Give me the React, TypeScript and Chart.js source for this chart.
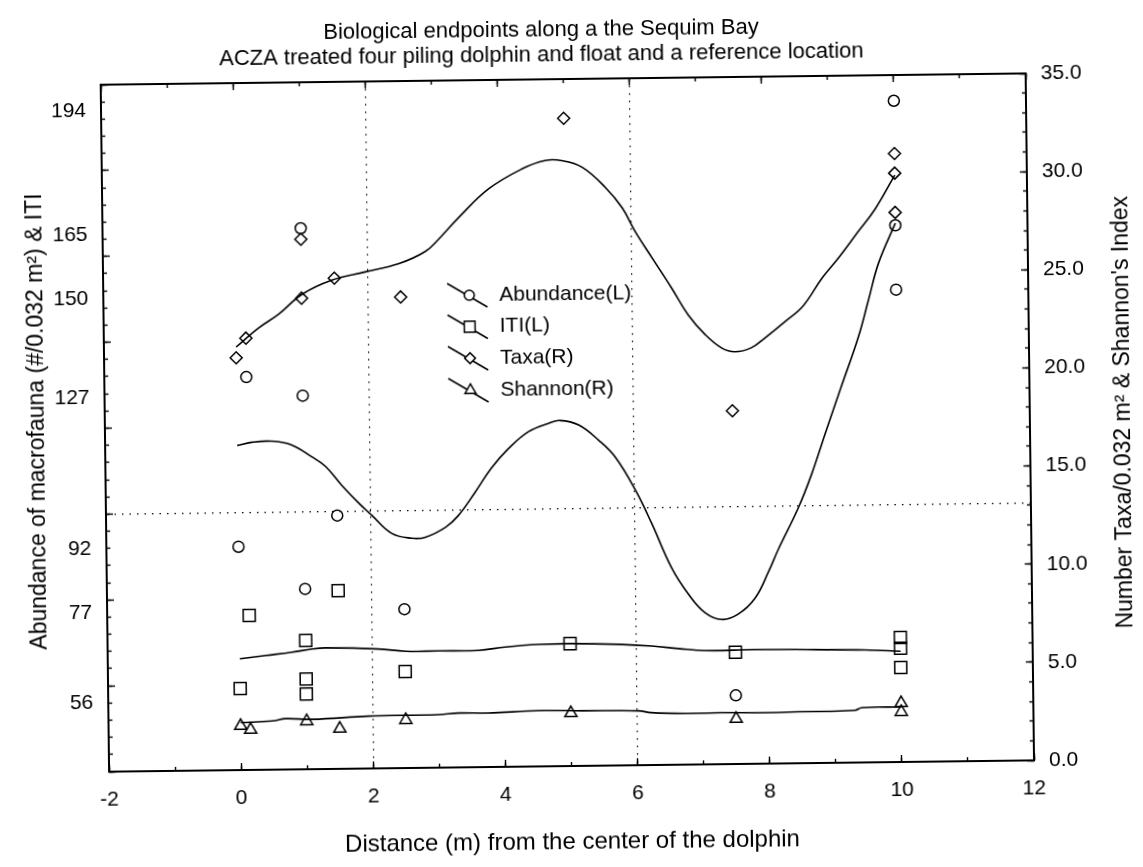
import React, { useEffect, useRef } from 'react';
import { Chart, registerables } from 'chart.js';

Chart.register(...registerables);

const FONT = "'Liberation Sans', Arial, sans-serif";

// ---- text ----
const titleLines = [
  'Biological endpoints along a the Sequim Bay',
  'ACZA treated four piling dolphin and float and a reference location',
];
const xAxisTitle = 'Distance (m) from the center of the dolphin';
const leftAxisTitle = 'Abundance of macrofauna (#/0.032 m\u00B2) & ITI';
const rightAxisTitle = "Number Taxa/0.032 m\u00B2 & Shannon's Index";
const legendLabels = ['Abundance(L)', 'ITI(L)', 'Taxa(R)', 'Shannon(R)'];

// ---- axes ----
const xMin = -2;
const xMax = 12;
const xStep = 2;
const xMinorStep = 1;
const xGridValues = [2, 6];
const leftMin = 40;
const leftMax = 200;
const leftMajorStep = 20;
const leftMinorStep = 4;
const leftTickValues = [56, 77, 92, 127, 150, 165, 194];
const leftGridValues = [100];
const rightMin = 0;
const rightMax = 35;
const rightStep = 5;
const rightMinorStep = 1;

// ---- measured points ----
const abundanceX = [0, 0.15, 1, 1, 1, 1.5, 2.5, 7.5, 10, 10, 10];
const abundanceY = [92, 131.5, 166, 127, 82, 99, 77, 56, 194, 165, 150];

const itiX = [0, 0.15, 1, 1, 1, 1.5, 2.5, 5, 7.5, 10, 10, 10];
const itiY = [59, 76, 70, 61, 57.5, 81.5, 62.5, 68.5, 66, 69, 66.5, 62];

const taxaX = [0, 0.15, 1, 1, 1.5, 2.5, 5, 7.5, 10, 10, 10];
const taxaY = [21, 22, 27, 24, 25, 24, 33, 18, 31, 30, 28];

const shannonX = [0, 0.15, 1, 1.5, 2.5, 5, 7.5, 10, 10];
const shannonY = [2.25, 2.05, 2.45, 2.05, 2.45, 2.7, 2.3, 2.55, 3.0];

// ---- fitted curves ----
const abundanceFitX = [0, 0.22, 0.52, 0.82, 1.12, 1.33, 1.57, 1.83, 2.02, 2.32, 2.62, 2.83, 3.14, 3.33, 3.59, 3.84, 4.11, 4.41, 4.72, 4.89, 5.17, 5.47, 5.72, 6.02, 6.26, 6.55, 6.8, 7.05, 7.3, 7.55, 7.81, 8.02, 8.17, 8.48, 8.69, 8.9, 9.15, 9.42, 9.58, 9.74, 10];
const abundanceFitY = [115.6, 116.3, 116.5, 115.6, 112.8, 110.5, 106.1, 101.8, 99.0, 94.7, 93.5, 93.7, 96.0, 98.6, 104.0, 109.6, 114.2, 118.0, 119.9, 120.5, 119.4, 115.8, 111.8, 104.0, 96.2, 85.9, 79.7, 75.3, 73.7, 74.9, 78.6, 84.8, 89.9, 99.5, 107.4, 116.7, 127.5, 139.1, 147.7, 156.3, 165.5];

const itiFitX = [0, 0.39, 0.79, 1.1, 1.3, 2.1, 2.51, 3.01, 3.61, 4.02, 4.52, 5.03, 5.73, 6.24, 6.64, 7.04, 7.8, 8.71, 9.46, 10];
const itiFitY = [65.9, 66.6, 67.3, 68.0, 68.2, 67.8, 67.2, 67.2, 67.2, 67.9, 68.4, 68.5, 68.2, 67.7, 67.05, 66.5, 66.6, 66.4, 66.2, 65.8];

const taxaFitX = [0, 0.34, 0.65, 1.01, 1.46, 1.97, 2.48, 2.88, 3.08, 3.39, 3.85, 4.36, 4.71, 4.96, 5.27, 5.62, 5.87, 6.06, 6.31, 6.6, 6.85, 7.1, 7.35, 7.55, 7.8, 8.01, 8.31, 8.59, 8.88, 9.13, 9.44, 9.7, 10];
const taxaFitY = [21.55, 22.5, 23.2, 24.2, 24.9, 25.3, 25.7, 26.3, 26.9, 28.0, 29.45, 30.45, 30.86, 30.85, 30.5, 29.45, 28.4, 27.2, 25.85, 24.3, 22.9, 21.9, 21.2, 21.0, 21.2, 21.7, 22.5, 23.3, 24.7, 25.7, 27.06, 28.2, 29.9];

const shannonFitX = [0, 0.48, 0.68, 1.08, 1.94, 2.49, 3.0, 3.3, 3.75, 4.51, 5.17, 6.02, 6.22, 6.78, 7.28, 8.0, 8.45, 9.3, 9.4, 10];
const shannonFitY = [2.42, 2.48, 2.59, 2.54, 2.67, 2.69, 2.7, 2.77, 2.75, 2.84, 2.81, 2.77, 2.67, 2.61, 2.62, 2.6, 2.62, 2.66, 2.79, 2.8];

const pts = (xs: number[], ys: number[]) => xs.map((x, i) => ({ x, y: ys[i] }));

const curve = (xs: number[], ys: number[], axis: string) => ({
  data: pts(xs, ys),
  yAxisID: axis,
  showLine: true,
  borderColor: '#000',
  backgroundColor: '#000',
  borderWidth: 1.6,
  pointRadius: 0,
  pointHoverRadius: 0,
  tension: 0.4,
  fill: false,
});

const markers = (xs: number[], ys: number[], axis: string, style: string, r: number) => ({
  data: pts(xs, ys),
  yAxisID: axis,
  showLine: false,
  pointStyle: style,
  pointRadius: r,
  pointHoverRadius: r,
  pointBorderWidth: 1.5,
  borderColor: '#000',
  backgroundColor: 'rgba(0,0,0,0)',
});

const legendStyles = [
  { style: 'circle', r: 5.5 },
  { style: 'rect', r: 8.5 },
  { style: 'rectRot', r: 6 },
  { style: 'triangle', r: 7 },
];

function drawMarker(ctx: CanvasRenderingContext2D, style: string, r: number, x: number, y: number) {
  ctx.beginPath();
  if (style === 'circle') {
    ctx.arc(x, y, r, 0, Math.PI * 2);
  } else if (style === 'rect') {
    const s = Math.SQRT1_2 * r;
    ctx.rect(x - s, y - s, 2 * s, 2 * s);
  } else if (style === 'rectRot') {
    ctx.moveTo(x - r, y);
    ctx.lineTo(x, y - r);
    ctx.lineTo(x + r, y);
    ctx.lineTo(x, y + r);
    ctx.closePath();
  } else {
    let a = 0;
    ctx.moveTo(x + Math.sin(a) * r, y - Math.cos(a) * r);
    a += (2 * Math.PI) / 3;
    ctx.lineTo(x + Math.sin(a) * r, y - Math.cos(a) * r);
    a += (2 * Math.PI) / 3;
    ctx.lineTo(x + Math.sin(a) * r, y - Math.cos(a) * r);
    ctx.closePath();
  }
  ctx.fillStyle = '#fff';
  ctx.fill();
  ctx.stroke();
}

const textPlugin = {
  id: 'textPlugin',
  afterDraw(chart: any) {
    const ctx: CanvasRenderingContext2D = chart.ctx;
    ctx.save();
    ctx.fillStyle = '#000';
    ctx.textAlign = 'center';
    ctx.textBaseline = 'alphabetic';
    ctx.font = `22px ${FONT}`;
    ctx.fillText(titleLines[0], 546, 36);
    ctx.fillText(titleLines[1], 546, 61);

    ctx.textBaseline = 'middle';
    ctx.font = `23px ${FONT}`;
    ctx.save();
    ctx.translate(38, 415);
    ctx.rotate(-Math.PI / 2);
    ctx.fillText(leftAxisTitle, 0, 0);
    ctx.restore();

    ctx.save();
    ctx.translate(1124, 419);
    ctx.rotate(-Math.PI / 2);
    ctx.fillText(rightAxisTitle, 0, 0);
    ctx.restore();
    ctx.restore();
  },
};

const legendPlugin = {
  id: 'legendPlugin',
  afterDatasetsDraw(chart: any) {
    const ctx: CanvasRenderingContext2D = chart.ctx;
    const rows = [294, 325.5, 357, 389];
    const mx = 471;
    ctx.save();
    ctx.strokeStyle = '#000';
    ctx.lineWidth = 1.5;
    ctx.font = `21px ${FONT}`;
    ctx.textAlign = 'left';
    ctx.textBaseline = 'middle';
    legendLabels.forEach((label, i) => {
      const y = rows[i];
      ctx.beginPath();
      ctx.moveTo(mx - 22, y - 12);
      ctx.lineTo(mx + 18, y + 12);
      ctx.stroke();
      drawMarker(ctx, legendStyles[i].style, legendStyles[i].r * 0.9, mx, y);
      ctx.fillStyle = '#000';
      ctx.fillText(label, 501, y);
    });
    ctx.restore();
  },
};

// an invisible axis that only draws inward tick marks
const tickAxis = (
  position: string,
  min: number,
  max: number,
  step: number,
  len: number,
  horizontal: boolean,
) => ({
  type: 'linear',
  position,
  min,
  max,
  weight: -1,
  ticks: { display: false, stepSize: step, autoSkip: false, maxTicksLimit: 1000 },
  grid: {
    display: true,
    drawOnChartArea: false,
    drawTicks: true,
    tickLength: -len,
    tickColor: '#000',
    tickWidth: 1.4,
  },
  border: { display: false },
  afterFit: (s: any) => {
    if (horizontal) s.height = 0;
    else s.width = 0;
  },
});

export default function App() {
  const ref = useRef<HTMLCanvasElement>(null);

  useEffect(() => {
    const canvas = ref.current;
    if (!canvas) return;
    Chart.defaults.font.family = FONT;
    Chart.defaults.color = '#000';

    const hidden = 'rgba(0,0,0,0)';
    const chart = new Chart(canvas, {
      type: 'scatter',
      data: {
        datasets: [
          curve(abundanceFitX, abundanceFitY, 'y'),
          curve(itiFitX, itiFitY, 'y'),
          curve(taxaFitX, taxaFitY, 'y1'),
          curve(shannonFitX, shannonFitY, 'y1'),
          markers(abundanceX, abundanceY, 'y', 'circle', 5.5),
          markers(itiX, itiY, 'y', 'rect', 8.5),
          markers(taxaX, taxaY, 'y1', 'rectRot', 6),
          markers(shannonX, shannonY, 'y1', 'triangle', 7),
        ] as any,
      },
      options: {
        responsive: false,
        animation: false,
        layout: { padding: 0 },
        plugins: {
          legend: { display: false },
          tooltip: { enabled: false },
          title: { display: false },
        },
        scales: {
          x: {
            type: 'linear',
            position: 'bottom',
            min: xMin,
            max: xMax,
            ticks: { stepSize: xStep, padding: 16, font: { size: 21 }, color: '#000' },
            grid: {
              drawTicks: false,
              lineWidth: 1.2,
              color: (c: any) => (c.tick && xGridValues.includes(c.tick.value) ? '#000' : hidden),
            },
            border: { display: true, color: '#000', width: 2, dash: [1.5, 6] },
            title: {
              display: true,
              text: xAxisTitle,
              font: { size: 24 },
              color: '#000',
              padding: { top: 0, bottom: 10 },
            },
            afterFit: (s: any) => {
              s.height = 101;
            },
          },
          x2: {
            type: 'linear',
            position: 'top',
            min: xMin,
            max: xMax,
            ticks: { display: false },
            grid: { display: false, drawTicks: false },
            border: { display: true, color: '#000', width: 2 },
            afterFit: (s: any) => {
              s.height = 79;
            },
          },
          y: {
            type: 'linear',
            position: 'left',
            min: leftMin,
            max: leftMax,
            afterBuildTicks: (s: any) => {
              s.ticks = [...leftTickValues, ...leftGridValues]
                .sort((a, b) => a - b)
                .map((v) => ({ value: v }));
            },
            ticks: {
              padding: 15,
              autoSkip: false,
              font: { size: 21 },
              color: '#000',
              callback: (v: any) => (leftTickValues.includes(Number(v)) ? String(v) : ''),
            },
            grid: {
              drawTicks: false,
              lineWidth: 1.2,
              color: (c: any) => (c.tick && leftGridValues.includes(c.tick.value) ? '#000' : hidden),
            },
            border: { display: true, color: '#000', width: 2, dash: [1.5, 6] },
            afterFit: (s: any) => {
              s.width = 105;
            },
          },
          y1: {
            type: 'linear',
            position: 'right',
            min: rightMin,
            max: rightMax,
            ticks: {
              stepSize: rightStep,
              padding: 15,
              font: { size: 21 },
              color: '#000',
              callback: (v: any) => Number(v).toFixed(1),
            },
            grid: { display: false, drawTicks: false },
            border: { display: true, color: '#000', width: 2 },
            afterFit: (s: any) => {
              s.width = 113;
            },
          },
          xTickMajor: tickAxis('bottom', xMin, xMax, xStep, 7, true),
          xTickMinor: tickAxis('bottom', xMin, xMax, xMinorStep, 4, true),
          x2TickMajor: tickAxis('top', xMin, xMax, xStep, 7, true),
          x2TickMinor: tickAxis('top', xMin, xMax, xMinorStep, 4, true),
          yTickMajor: tickAxis('left', leftMin, leftMax, leftMajorStep, 7, false),
          yTickMinor: tickAxis('left', leftMin, leftMax, leftMinorStep, 4, false),
          y1TickMajor: tickAxis('right', rightMin, rightMax, rightStep, 7, false),
          y1TickMinor: tickAxis('right', rightMin, rightMax, rightMinorStep, 4, false),
        },
      } as any,
      plugins: [textPlugin, legendPlugin],
    });
    return () => chart.destroy();
  }, []);

  return (
    <div
      style={{
        position: 'fixed',
        left: 0,
        top: 0,
        width: 1143,
        height: 867,
        transform: 'rotate(-0.7deg)',
        transformOrigin: '571.5px 433.5px',
      }}
    >
      <canvas ref={ref} width={1143} height={867} style={{ display: 'block' }} />
    </div>
  );
}
